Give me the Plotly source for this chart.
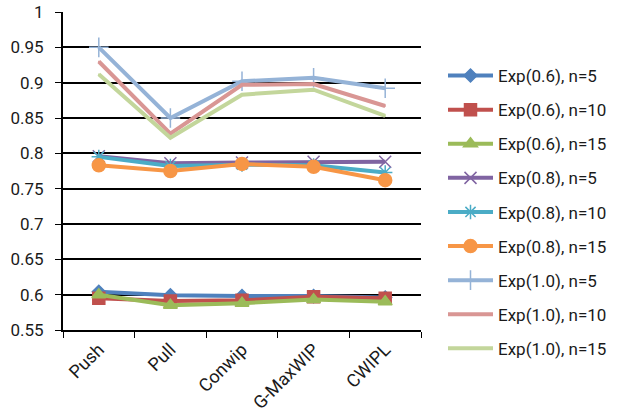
import plotly.graph_objects as go

categories = ["Push", "Pull", "Conwip", "G-MaxWIP", "CWIPL"]

series_names = [
    "Exp(0.6), n=5", "Exp(0.6), n=10", "Exp(0.6), n=15",
    "Exp(0.8), n=5", "Exp(0.8), n=10", "Exp(0.8), n=15",
    "Exp(1.0), n=5", "Exp(1.0), n=10", "Exp(1.0), n=15",
]

exp06_n5 = [0.604, 0.599, 0.598, 0.598, 0.596]
exp06_n10 = [0.595, 0.591, 0.592, 0.597, 0.595]
exp06_n15 = [0.600, 0.585, 0.588, 0.593, 0.590]
exp08_n5 = [0.796, 0.786, 0.787, 0.788, 0.788]
exp08_n10 = [0.795, 0.782, 0.784, 0.783, 0.773]
exp08_n15 = [0.783, 0.775, 0.785, 0.781, 0.762]
exp10_n5 = [0.950, 0.850, 0.902, 0.907, 0.892]
exp10_n10 = [0.930, 0.828, 0.897, 0.898, 0.867]
exp10_n15 = [0.912, 0.822, 0.883, 0.890, 0.853]

values = [exp06_n5, exp06_n10, exp06_n15,
          exp08_n5, exp08_n10, exp08_n15,
          exp10_n5, exp10_n10, exp10_n15]

colors = ["#4F81BD", "#C0504D", "#9BBB59",
          "#8064A2", "#4BACC6", "#F79646",
          "#95B3D7", "#D99694", "#C3D69B"]
symbols = ["diamond", "square", "triangle-up",
           "x-thin", "asterisk", "circle",
           "cross-thin", "line-ew", "line-ew"]
sizes = [10, 12, 12, 12, 12, 13, 14, 1, 1]

fig = go.Figure()
for i, (name, ys) in enumerate(zip(series_names, values)):
    fig.add_trace(go.Scatter(
        x=categories, y=ys, name=name, mode="lines+markers",
        legendgroup=f"g{i}",
        line=dict(color=colors[i], width=4),
        marker=dict(symbol=symbols[i], size=sizes[i], color=colors[i],
                    line=dict(color=colors[i], width=1.5)),
    ))

fig.update_layout(
    width=617, height=414,
    margin=dict(l=63, r=196, t=12, b=84),
    paper_bgcolor="white", plot_bgcolor="white",
    font=dict(family="Roboto", size=17, color="#1a1a1a"),
    showlegend=True,
    legend=dict(
        xref="container", yref="container",
        x=443 / 617, y=1 - 58 / 414, xanchor="left", yanchor="top",
        font=dict(size=17), tracegroupgap=9, itemwidth=45,
        maxheight=400,
    ),
    xaxis=dict(
        type="category", range=[-0.5, 4.5], tickangle=-45,
        tickfont=dict(size=18),
        showline=True, linecolor="black", linewidth=2,
        ticks="outside", tickson="boundaries", ticklen=6, tickcolor="black",
        showgrid=False, automargin=False,
    ),
    yaxis=dict(
        range=[0.55, 1.0], dtick=0.05, tick0=0.55,
        showline=True, linecolor="black", linewidth=2,
        ticks="outside", ticklen=6, tickcolor="black",
        ticklabelstandoff=8,
        showgrid=True, gridcolor="black", gridwidth=1.5,
        zeroline=False, automargin=False,
    ),
)

fig.write_html("out.html")
